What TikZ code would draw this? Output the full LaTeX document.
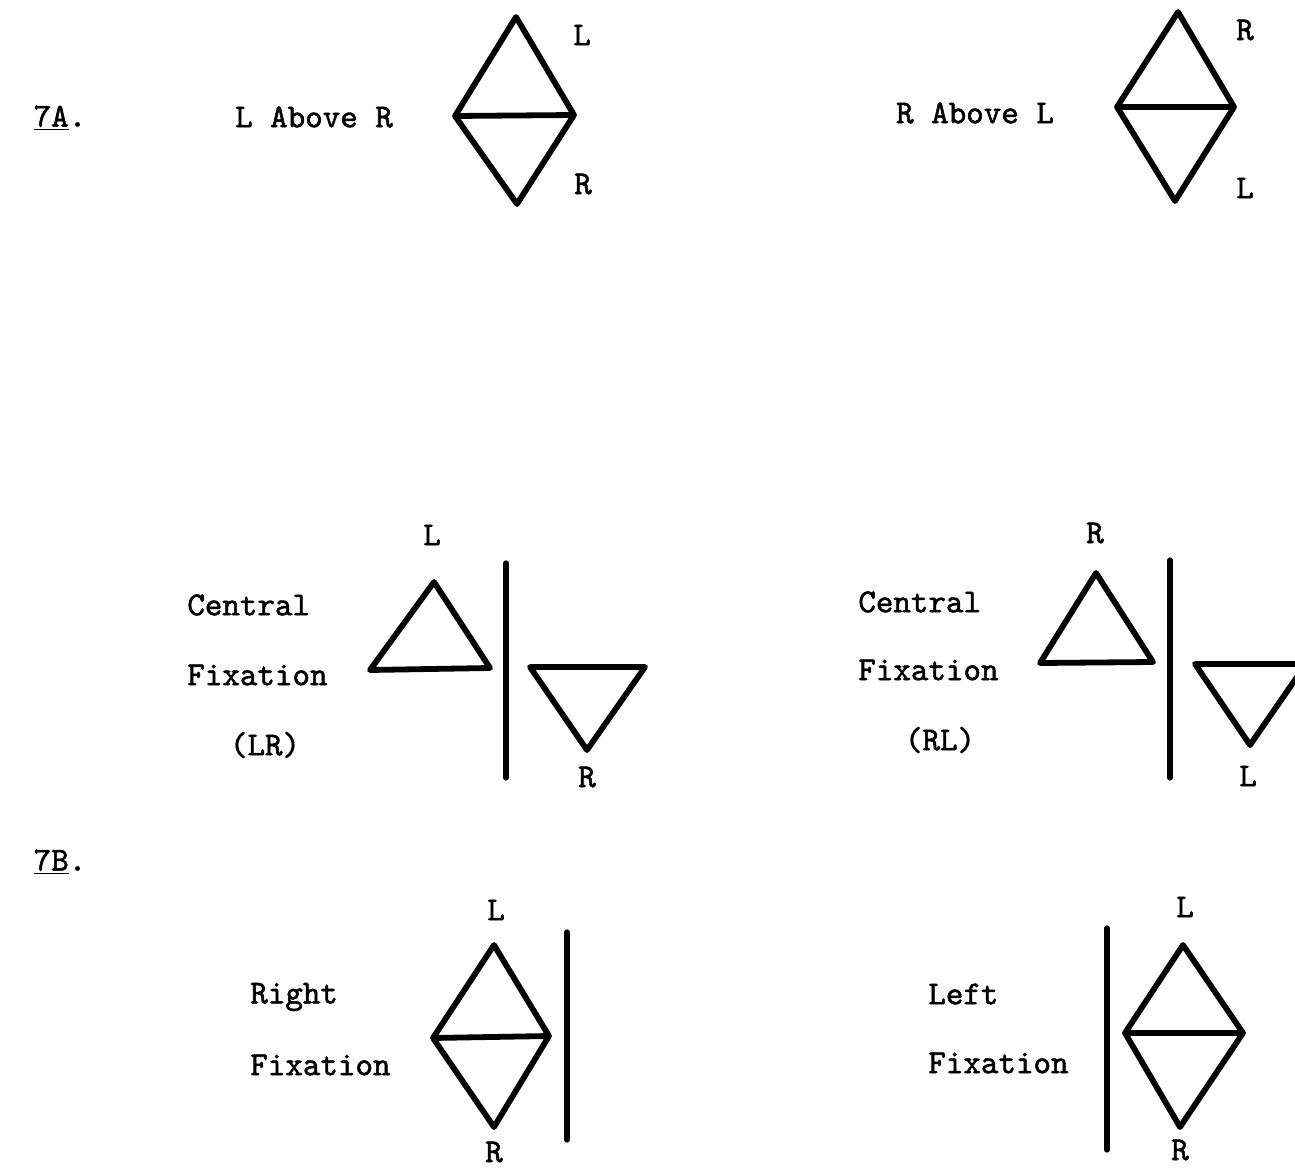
\documentclass[tikz,border=0pt]{standalone}
\usepackage{fontspec}
\newfontfamily\typew{lmmono10-regular}[Extension=.otf, FakeBold=1.6]
\begin{document}
\begin{tikzpicture}[x=0.02cm, y=-0.02cm,
  fig/.style={line width=3.3pt, line join=round, line cap=round},
  bar/.style={line width=3pt, line cap=round},
  txt/.style={font=\typew\fontsize{19}{22}\selectfont, inner sep=0pt},
  eye/.style={font=\typew\fontsize{19}{22}\selectfont, inner sep=0pt}]
\useasboundingbox (0,0) rectangle (1295,1169);

% 7A
\node[txt] (hA) at (60,118) {\underline{7A}.};
\node[txt] (lar) at (314,117) {L Above R};
\draw[fig] (516,17) -- (574,115) -- (517,204) -- (455,116) -- cycle (455,116) -- (574,115);
\node[eye] (lar1) at (582,35) {L};
\node[eye] (lar2) at (583,184) {R};

\node[txt] (ral) at (975,113) {R Above L};
\draw[fig] (1178,12) -- (1234,107) -- (1175,201) -- (1117,107) -- cycle (1117,107) -- (1234,107);
\node[eye] (ral1) at (1245,30) {R};
\node[eye] (ral2) at (1245,188) {L};

% central fixation, LR
\node[txt, anchor=west] (cf1) at (187,605) {Central};
\node[txt, anchor=west] (cf2) at (187,675) {Fixation};
\node[txt] (cf3) at (265,745) {(LR)};
\draw[fig] (434,582) -- (490,668) -- (370,670) -- cycle;
\node[eye] (cfl) at (432,535) {L};
\draw[bar] (506,563) -- (506,778);
\draw[fig] (530,667) -- (645,667) -- (587,750) -- cycle;
\node[eye] (cfr) at (587,777) {R};

% central fixation, RL
\node[txt, anchor=west] (cg1) at (858,602) {Central};
\node[txt, anchor=west] (cg2) at (858,670) {Fixation};
\node[txt] (cg3) at (940,740) {(RL)};
\draw[fig] (1096,573) -- (1153,662) -- (1040,663) -- cycle;
\node[eye] (cgr) at (1095,533) {R};
\draw[bar] (1170,560) -- (1170,778);
\draw[fig] (1195,664) -- (1306,664) -- (1250,745) -- cycle;
\node[eye] (cgl) at (1248,776) {L};

% 7B
\node[txt] (hB) at (60,862) {\underline{7B}.};

% right fixation
\node[txt, anchor=west] (rf1) at (250,997) {Right};
\node[txt, anchor=west] (rf2) at (250,1065) {Fixation};
\draw[fig] (494,945) -- (549,1036) -- (494,1127) -- (433,1038) -- cycle (433,1038) -- (549,1036);
\node[eye] (rfl) at (496,910) {L};
\node[eye] (rfr) at (494,1152) {R};
\draw[bar] (567,932) -- (567,1140);

% left fixation
\node[txt, anchor=west] (lf1) at (928,994) {Left};
\node[txt, anchor=west] (lf2) at (928,1063) {Fixation};
\draw[bar] (1107,928) -- (1107,1150);
\draw[fig] (1183,945) -- (1243,1033) -- (1180,1127) -- (1125,1033) -- cycle (1125,1033) -- (1243,1033);
\node[eye] (lfl) at (1185,907) {L};
\node[eye] (lfr) at (1180,1150) {R};
\end{tikzpicture}
\end{document}
